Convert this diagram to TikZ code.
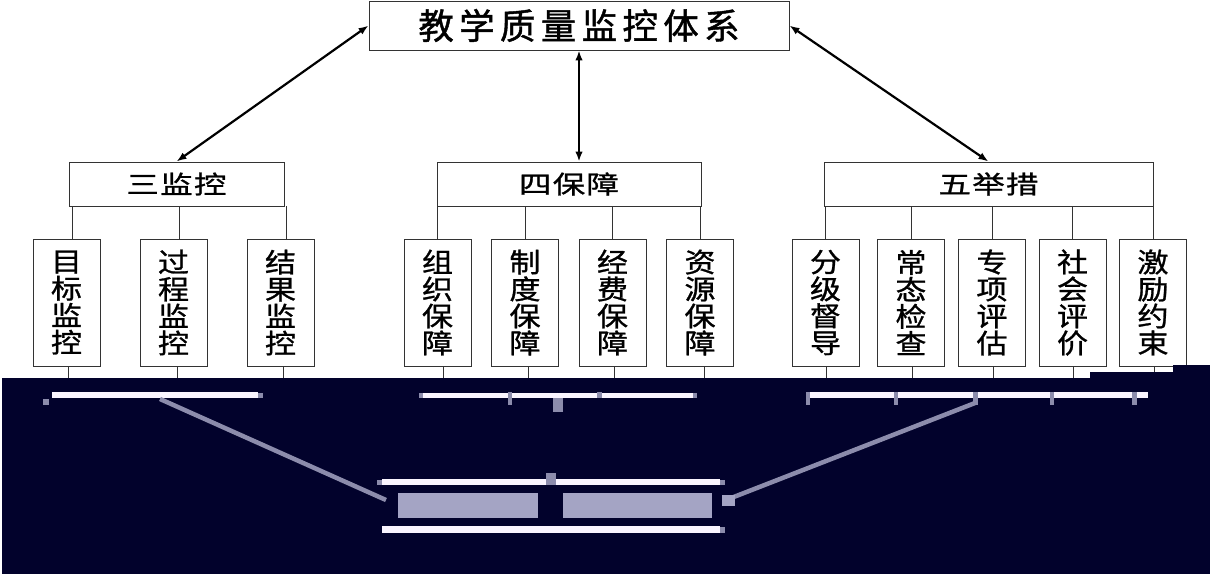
\documentclass[tikz,border=0pt]{standalone}
\usepackage{fontspec}
\usetikzlibrary{arrows.meta}
\newfontfamily\cjkT{Noto Sans CJK SC}[LetterSpace=15,FakeBold=1.2]
\newfontfamily\cjkP{Noto Sans CJK SC}[FakeStretch=1.3,LetterSpace=5,FakeBold=1]
\newfontfamily\cjkC{Noto Sans CJK SC}[FakeStretch=1.15,FakeBold=1]
\definecolor{navy}{HTML}{02022C}
\definecolor{barc}{HTML}{FAF5FF}
\definecolor{diagc}{HTML}{8C8CAC}
\definecolor{garblec}{HTML}{A4A4C4}
\begin{document}
\begin{tikzpicture}[x=1pt,y=-1pt,
  box/.style={draw=black!80, line width=0.9pt, inner sep=0pt, fill=white},
  titlebox/.style={box, minimum width=420pt, minimum height=49pt, font=\cjkT\fontsize{35.5}{36}\selectfont},
  parentbox/.style={box, minimum height=44pt, font=\cjkP\fontsize{25}{26}\selectfont},
  childbox/.style={box, minimum width=67pt, minimum height=127pt, align=center, font=\cjkC\fontsize{27}{27}\selectfont},
  arr/.style={{Latex[length=10pt,width=7.5pt]}-{Latex[length=10pt,width=7.5pt]}, line width=2.2pt},
  link/.style={draw=black!80, line width=0.8pt},
  bar/.style={fill=barc},
  diag/.style={draw=diagc, line width=4.5pt},
  tick/.style={fill=diagc},
  garble/.style={fill=garblec}]
\useasboundingbox (0,0) rectangle (1210,574);
\fill[white] (0,0) rectangle (1210,574);

% top
\node[titlebox] (top) at (579,25.5) {教学质量监控体系};
% parents
\node[parentbox, minimum width=215pt] (p1) at (176.5,184) {三监控};
\node[parentbox, minimum width=264pt] (p2) at (569,184) {四保障};
\node[parentbox, minimum width=329pt] (p3) at (988.5,184) {五举措};

% children
\node[childbox] (c11) at (66.5,302.5) {目\\标\\监\\控};
\node[childbox] (c12) at (173.5,302.5) {过\\程\\监\\控};
\node[childbox] (c13) at (280.5,302.5) {结\\果\\监\\控};

\node[childbox] (c21) at (437.5,302.5) {组\\织\\保\\障};
\node[childbox] (c22) at (525,302.5) {制\\度\\保\\障};
\node[childbox] (c23) at (612.5,302.5) {经\\费\\保\\障};
\node[childbox] (c24) at (700,302.5) {资\\源\\保\\障};

\node[childbox] (c31) at (825.5,302.5) {分\\级\\督\\导};
\node[childbox] (c32) at (911,302.5) {常\\态\\检\\查};
\node[childbox] (c33) at (992,302.5) {专\\项\\评\\估};
\node[childbox] (c34) at (1072.5,302.5) {社\\会\\评\\价};
\node[childbox] (c35) at (1153,302.5) {激\\励\\约\\束};

% arrows
\draw[arr] (top.west) -- (p1.north);
\draw[arr] (top.south) -- (top.south |- p2.north);
\draw[arr] (top.east) -- (p3.north);

% parent-child links
\foreach \c in {c11,c12,c13}
  \draw[link] ([xshift=5.5pt]\c.north |- p1.south) -- ([xshift=5.5pt]\c.north);
\foreach \c in {c21,c22,c23,c24}
  \draw[link] (\c.north |- p2.south) -- (\c.north);
\foreach \c in {c31,c32,c33,c34,c35}
  \draw[link] (\c.north |- p3.south) -- (\c.north);

% lower stubs
\coordinate (navytop) at (0,380);
\foreach \c/\s in {c11/1.5,c12/3.5,c13/2.5,c21/5.5,c22/3,c23/1.5,c24/4,c31/0.5,c32/1,c33/1,c34/1,c35/1}
  \draw[link] ([xshift=\s pt]\c.south) -- ([xshift=\s pt]\c.south |- navytop);

% dark lower band
\fill[navy] (2,378) rectangle (1210,574);
\fill[navy] (1090,372) rectangle (1210,378);
\fill[navy] (1173,365) rectangle (1210,372);

% bars
\fill[bar] (52,392) rectangle (258,398);
\fill[bar] (423,393) rectangle (693,398);
\fill[bar] (810,392) rectangle (1148,398);
\fill[bar] (382,479) rectangle (720,485);
\fill[bar] (382,526) rectangle (720,533);

% diagonals
\draw[diag] (160,399) -- (386,500);
\draw[diag] (975,403) -- (726,500);

% garbled blocks
\fill[garble] (398,493) rectangle (538,518);
\fill[garble] (563,493) rectangle (712,518);
\fill[garble] (722,495) rectangle (735,506);

% ticks
\fill[tick] (43,399) rectangle (49,405);
\fill[tick] (258,393) rectangle (263,398);
\fill[tick] (419,393) rectangle (423,398);
\fill[tick] (508,392) rectangle (512,405);
\fill[tick] (553,398) rectangle (563,412);
\fill[tick] (597,392) rectangle (602,398);
\fill[tick] (693,393) rectangle (697,398);
\fill[tick] (806,392) rectangle (810,405);
\fill[tick] (894,392) rectangle (898,405);
\fill[tick] (973,392) rectangle (978,405);
\fill[tick] (1050,392) rectangle (1054,405);
\fill[tick] (1132,392) rectangle (1137,405);
\fill[tick] (546,473) rectangle (556,485);
\fill[tick] (720,480) rectangle (725,485);
\fill[tick] (720,527) rectangle (725,533);
\fill[tick] (377,480) rectangle (382,485);
\end{tikzpicture}
\end{document}
